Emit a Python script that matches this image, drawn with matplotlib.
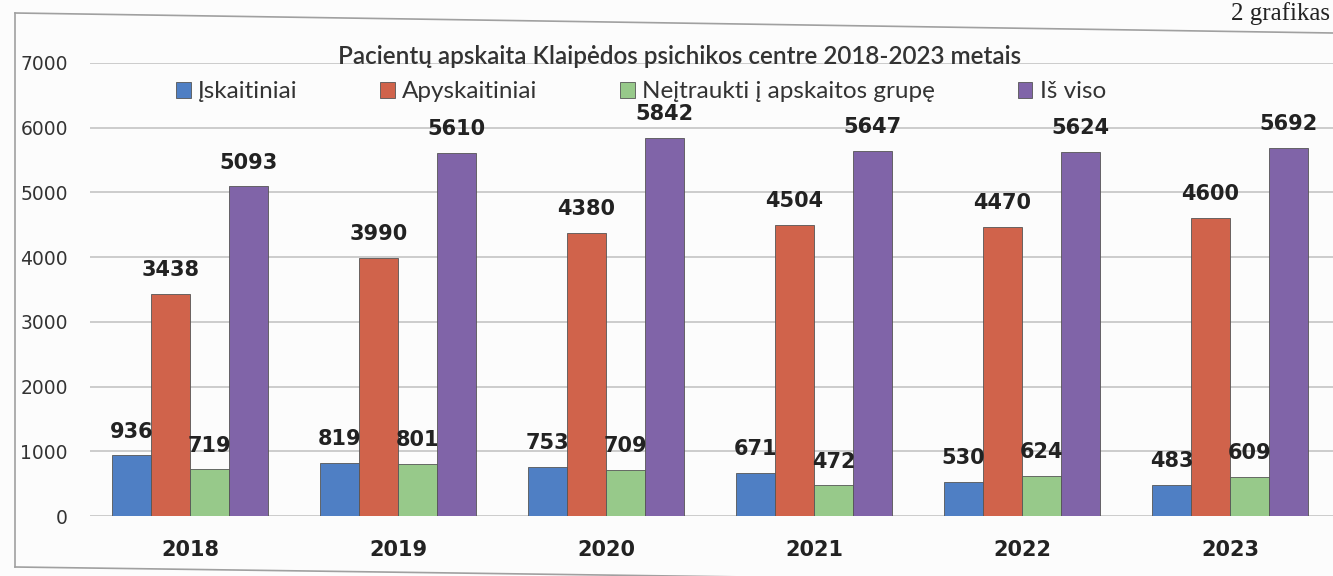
import matplotlib
matplotlib.use('Agg')
import matplotlib.pyplot as plt
from matplotlib.lines import Line2D
import numpy as np

years = ['2018', '2019', '2020', '2021', '2022', '2023']
iskaitiniai = [936, 819, 753, 671, 530, 483]
apyskaitiniai = [3438, 3990, 4380, 4504, 4470, 4600]
neitraukti = [719, 801, 709, 472, 624, 609]
is_viso = [5093, 5610, 5842, 5647, 5624, 5692]

series = [
    ('Įskaitiniai', iskaitiniai, '#4f7fc4'),
    ('Apyskaitiniai', apyskaitiniai, '#d0634b'),
    ('Neįtraukti į apskaitos grupę', neitraukti, '#97c98a'),
    ('Iš viso', is_viso, '#8064a8'),
]

W, H = 1333, 576
fig = plt.figure(figsize=(W / 100, H / 100), dpi=100)
fig.patch.set_facecolor('#fcfcfc')
ax = fig.add_axes([90 / W, 1 - 516 / H, 1 - 90 / W, (516 - 63) / H])
ax.set_facecolor('none')

x = np.arange(len(years))
w = 0.1875
for i, (name, vals, col) in enumerate(series):
    bars = ax.bar(x + (i - 1.5) * w, vals, w, color=col, edgecolor='#555555',
                  linewidth=0.6, label=name, zorder=3)
    ax.bar_label(bars, padding=10, fontsize=15, fontweight='bold',
                 family='DejaVu Sans', color='#222222', zorder=4)

ax.set_xlim(-0.481, 5.495)
ax.set_ylim(0, 7000)
ax.set_yticks(range(0, 7001, 1000))
ax.set_xticks(x)
ax.set_xticklabels(years, fontsize=15, fontweight='bold', family='DejaVu Sans',
                   color='#222222')
ax.tick_params(axis='x', length=0, pad=17)
ax.tick_params(axis='y', length=0, pad=16, labelsize=13.5, labelcolor='#333333')
ax.grid(axis='y', color='#c4c4c4', linewidth=1.2, zorder=0)
for s in ax.spines.values():
    s.set_visible(False)

fig.text(680 / W, 1 - 57 / H, 'Pacientų apskaita Klaipėdos psichikos centre 2018-2023 metais',
         ha='center', va='center', fontsize=17.5, fontweight='semibold', family='Lato',
         color='#333333')

fig.legend(loc='center', bbox_to_anchor=(641 / W, 1 - 92 / H), ncol=4, frameon=False,
           prop={'family': 'Lato', 'size': 17.5}, handlelength=0.6, handleheight=0.6,
           handletextpad=0.3, columnspacing=3.4, labelcolor='#333333')

# chart frame (scan is slightly tilted)
fig.add_artist(Line2D([15 / W, 15 / W], [1 - 13 / H, 1 - 567 / H], color='#a0a0a0', lw=1.2))
fig.add_artist(Line2D([15 / W, 1.0], [1 - 13 / H, 1 - 33 / H], color='#a0a0a0', lw=1.2))
fig.add_artist(Line2D([15 / W, 1.0], [1 - 567 / H, 1 - 585 / H], color='#a0a0a0', lw=1.2))

fig.text(1330 / W, 1 - 2 / H, '2 grafikas', ha='right', va='top', fontsize=18,
         family='Liberation Serif', color='#222222')

fig.savefig('out.png', dpi=100)
